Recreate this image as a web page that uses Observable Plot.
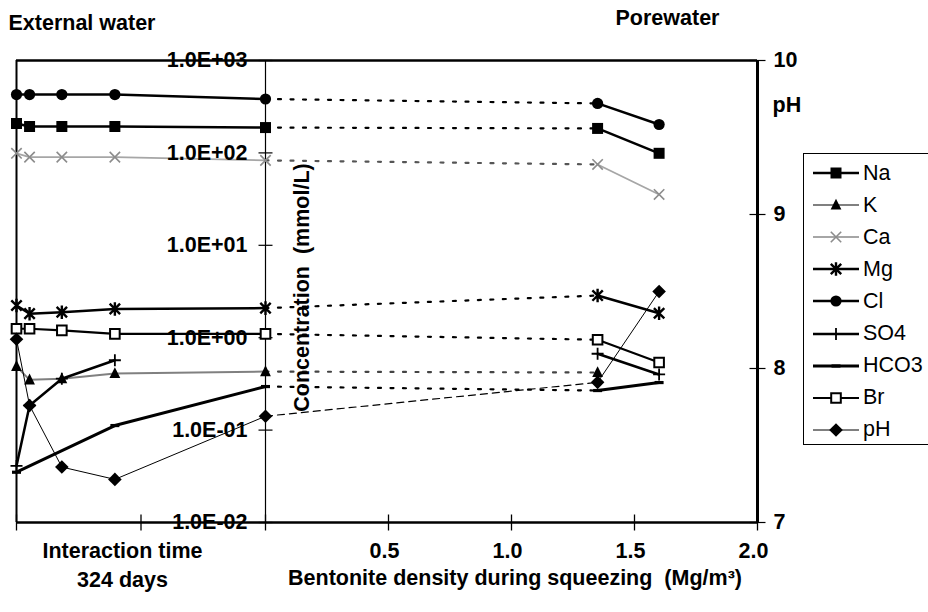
<!DOCTYPE html>
<html><head><meta charset="utf-8">
<script src="https://cdn.jsdelivr.net/npm/d3@7"></script>
<script src="https://cdn.jsdelivr.net/npm/@observablehq/plot@0.6"></script>
<style>
body{margin:0;background:#fff;font-family:"Liberation Sans",Arial,sans-serif;}
#wrap{position:relative;width:928px;height:612px;overflow:hidden;background:#fff;}
#legend{position:absolute;left:803px;top:153px;width:140px;height:292px;border:1px solid #000;box-sizing:border-box;background:#fff;}
.row{position:absolute;left:9px;height:32px;display:flex;align-items:center;font-size:21.5px;color:#000;}
.row svg{margin-right:4px;}
</style></head><body><div id="wrap"></div>
<script>
// ---- data ----
const extDays = [0, 17, 59, 128, 324];           // interaction time (days)
const poreDensity = [1.35, 1.6];                  // bentonite density (Mg/m3)
const naExt = [208, 193, 193, 193, 188];   const naPore = [184, 99];
const kExt = [0.49, 0.35, 0.36, 0.41, 0.43]; const kPore = [0.42];
const caExt = [99, 90, 90, 90, 83];        const caPore = [75, 35.5];
const mgExt = [2.23, 1.82, 1.89, 2.05, 2.09]; const mgPore = [2.86, 1.84];
const clExt = [428, 428, 428, 428, 383];   const clPore = [343, 203];
const so4Days = [0, 17, 59, 128];
const so4Ext = [0.041, 0.185, 0.36, 0.57]; const so4Pore = [0.67, 0.40];
const hco3Days = [0, 128, 324];
const hco3Ext = [0.035, 0.112, 0.296];     const hco3Pore = [0.268, 0.327];
const brExt = [1.25, 1.25, 1.20, 1.10, 1.10]; const brPore = [0.95, 0.54];
const phExt = [8.19, 7.76, 7.36, 7.28, 7.69]; const phPore = [7.91, 8.50];
const concTicks = [0.01, 0.1, 1, 10, 100, 1000];
const phTicks = [7, 8, 9, 10];
const densityTicks = [0.5, 1.0, 1.5, 2.0];
const timeTicks = [0, 162, 324];
const totalDays = 324;

// ---- helpers ----
const phToConc = p => 10 ** (-2 + (p - 7) * 5 / 3);
const tx = d => d - totalDays;   // time mapped onto the left panel of the piecewise x scale
const sym = f => ({draw(ctx, size) { f(ctx, Math.sqrt(size / Math.PI)); }});
const S = {
  square: sym((c, r) => { c.rect(-r, -r, 2 * r, 2 * r); }),
  circle: sym((c, r) => { c.moveTo(r, 0); c.arc(0, 0, r, 0, 2 * Math.PI); }),
  triangle: sym((c, r) => { c.moveTo(0, -1.15 * r); c.lineTo(r, 0.85 * r); c.lineTo(-r, 0.85 * r); c.closePath(); }),
  times: sym((c, r) => { c.moveTo(-r, -r); c.lineTo(r, r); c.moveTo(-r, r); c.lineTo(r, -r); }),
  star: sym((c, r) => { c.moveTo(-r, -r); c.lineTo(r, r); c.moveTo(-r, r); c.lineTo(r, -r); c.moveTo(0, -1.3 * r); c.lineTo(0, 1.3 * r); }),
  plus: sym((c, r) => { c.moveTo(-r, 0); c.lineTo(r, 0); c.moveTo(0, -r); c.lineTo(0, r); }),
  dash: sym((c, r) => { c.rect(-r, -1.6, 2 * r, 3.2); }),
  diamond: sym((c, r) => { c.moveTo(0, -r); c.lineTo(r, 0); c.lineTo(0, r); c.lineTo(-r, 0); c.closePath(); }),
  vtick: sym((c, r) => { c.moveTo(0, -r); c.lineTo(0, r); }),
  htick: sym((c, r) => { c.moveTo(-r, 0); c.lineTo(r, 0); })
};

const series = [
  {name: "Na", days: extDays, ext: naExt, pore: naPore, s: S.square, r: 5.5, fill: "#000", mstroke: "none", mw: 0, color: "#000", w: 2.5, cc: "#000"},
  {name: "K", days: extDays, ext: kExt, pore: kPore, s: S.triangle, r: 5.4, fill: "#000", mstroke: "none", mw: 0, color: "#808080", w: 2, cc: "#444"},
  {name: "Ca", days: extDays, ext: caExt, pore: caPore, s: S.times, r: 5.2, fill: "none", mstroke: "#8c8c8c", mw: 1.6, color: "#a6a6a6", w: 1.8, cc: "#555"},
  {name: "Mg", days: extDays, ext: mgExt, pore: mgPore, s: S.star, r: 5.2, fill: "none", mstroke: "#000", mw: 2.4, color: "#000", w: 2.5, cc: "#000"},
  {name: "Cl", days: extDays, ext: clExt, pore: clPore, s: S.circle, r: 5.6, fill: "#000", mstroke: "none", mw: 0, color: "#000", w: 2.5, cc: "#000"},
  {name: "SO4", days: so4Days, ext: so4Ext, pore: so4Pore, s: S.plus, r: 6, fill: "none", mstroke: "#000", mw: 1.8, color: "#000", w: 2.5, cc: "#000"},
  {name: "HCO3", days: hco3Days, ext: hco3Ext, pore: hco3Pore, s: S.dash, r: 4.5, fill: "#000", mstroke: "none", mw: 0, color: "#000", w: 3, cc: "#000"},
  {name: "Br", days: extDays, ext: brExt, pore: brPore, s: S.square, r: 4.8, fill: "#fff", mstroke: "#000", mw: 2, color: "#000", w: 2.2, cc: "#000"},
  {name: "pH", days: extDays, ext: phExt, pore: phPore, s: S.diamond, r: 6.8, fill: "#000", mstroke: "none", mw: 0, color: "#000", w: 1, cc: "#000", ph: true}
];

const lineMarks = [], connMarks = [], dotMarks = [];
for (const sr of series) {
  const yv = sr.ph ? phToConc : (v => v);
  const ext = sr.ext.map((v, i) => ({x: tx(sr.days[i]), y: yv(v)}));
  const pore = sr.pore.map((v, i) => ({x: poreDensity[i], y: yv(v)}));
  lineMarks.push(Plot.line(ext, {x: "x", y: "y", stroke: sr.color, strokeWidth: sr.w}));
  if (pore.length > 1) lineMarks.push(Plot.line(pore, {x: "x", y: "y", stroke: sr.color, strokeWidth: sr.w}));
  if (sr.days[sr.days.length - 1] === totalDays && pore.length) {
    const conn = [ext[ext.length - 1], pore[0]];
    connMarks.push(Plot.line(conn, {x: "x", y: "y", stroke: sr.cc,
      strokeWidth: sr.ph ? 1.2 : 2.2, strokeDasharray: sr.ph ? "7,5" : "3,9.5"}));
  }
  const all = ext.concat(pore);
  dotMarks.push(Plot.dot(all, {x: "x", y: "y", symbol: sr.s, r: sr.r, fill: sr.fill, stroke: sr.mstroke, strokeWidth: sr.mw}));
}

const fmtE = d => { const e = Math.round(Math.log10(d)); return "1.0E" + (e < 0 ? "-" : "+") + String(Math.abs(e)).padStart(2, "0"); };
const bold = {fontWeight: "bold", fontSize: 21.5, fill: "#000", lineAnchor: "middle"};

const chart = Plot.plot({
  width: 928, height: 612,
  marginLeft: 16, marginRight: 171, marginTop: 60, marginBottom: 90,
  x: {type: "linear", domain: [tx(0), 0, 2], range: [16, 265, 757], axis: null},
  y: {type: "log", domain: [0.01, 1000], axis: null},
  style: {fontFamily: '"Liberation Sans", Arial, sans-serif', background: "transparent", overflow: "visible"},
  marks: [
    // frame lines
    Plot.ruleY([1000], {stroke: "#000", strokeWidth: 2.5}),
    Plot.ruleY([0.01], {stroke: "#000", strokeWidth: 2.5}),
    Plot.ruleX([tx(0)], {stroke: "#000", strokeWidth: 2}),
    Plot.ruleX([2], {stroke: "#000", strokeWidth: 3}),
    Plot.ruleX([0], {stroke: "#000", strokeWidth: 1.2}),
    // tick marks crossing the axes
    Plot.dot(timeTicks.map(tx).concat(densityTicks), {x: d => d, y: () => 0.01, symbol: S.vtick, r: 8, stroke: "#000", strokeWidth: 1.3}),
    Plot.dot(concTicks, {x: () => 0, y: d => d, symbol: S.htick, r: 7, stroke: "#000", strokeWidth: 1.2}),
    Plot.dot(phTicks, {x: () => 2, y: d => phToConc(d), symbol: S.htick, r: 8, stroke: "#000", strokeWidth: 1.2}),
    // data
    ...lineMarks,
    ...connMarks,
    ...dotMarks,
    // left concentration tick labels, inside the plot at the divider
    Plot.text(concTicks, {x: () => 0, y: d => d, text: fmtE, textAnchor: "end", dx: -18, ...bold}),
    // pH tick labels
    Plot.text(phTicks, {x: () => 2, y: d => phToConc(d), text: d => String(d), textAnchor: "start", dx: 16, ...bold}),
    Plot.text(["pH"], {frameAnchor: "top-right", dx: 15, dy: 45, textAnchor: "start", ...bold}),
    // density tick labels
    Plot.text(densityTicks, {x: d => d, frameAnchor: "bottom", dy: 29, dx: -4, text: d => d.toFixed(1), ...bold}),
    // titles
    Plot.text(["Concentration  (mmol/L)"], {x: () => 0, frameAnchor: "middle", rotate: -90, dx: 37, dy: -4, ...bold}),
    Plot.text(["External water"], {frameAnchor: "top-left", dx: -8, dy: -37, textAnchor: "start", ...bold}),
    Plot.text(["Porewater"], {frameAnchor: "top-right", dx: -90, dy: -42, textAnchor: "middle", ...bold}),
    Plot.text(["Interaction time"], {frameAnchor: "bottom-left", dx: 106, dy: 29, textAnchor: "middle", ...bold}),
    Plot.text(["324 days"], {frameAnchor: "bottom-left", dx: 106, dy: 58, textAnchor: "middle", ...bold}),
    Plot.text(["Bentonite density during squeezing  (Mg/m³)"], {frameAnchor: "bottom", dx: 128, dy: 56, textAnchor: "middle", ...bold})
  ]
});

const wrap = document.getElementById("wrap");
wrap.appendChild(chart);

// legend
const legend = document.createElement("div");
legend.id = "legend";
series.forEach((sr, i) => {
  const row = document.createElement("div");
  row.className = "row";
  row.style.top = (3 + i * 32.1) + "px";
  const svg = d3.create("svg").attr("width", 46).attr("height", 20);
  svg.append("line").attr("x1", 0).attr("x2", 46).attr("y1", 10).attr("y2", 10)
    .attr("stroke", sr.color).attr("stroke-width", sr.w);
  svg.append("path").attr("transform", "translate(23,10)")
    .attr("d", d3.symbol(sr.s, Math.PI * sr.r * sr.r)())
    .attr("fill", sr.fill).attr("stroke", sr.mstroke).attr("stroke-width", sr.mw);
  row.appendChild(svg.node());
  const t = document.createElement("span");
  t.textContent = sr.name;
  row.appendChild(t);
  legend.appendChild(row);
});
wrap.appendChild(legend);
</script>
</body></html>
